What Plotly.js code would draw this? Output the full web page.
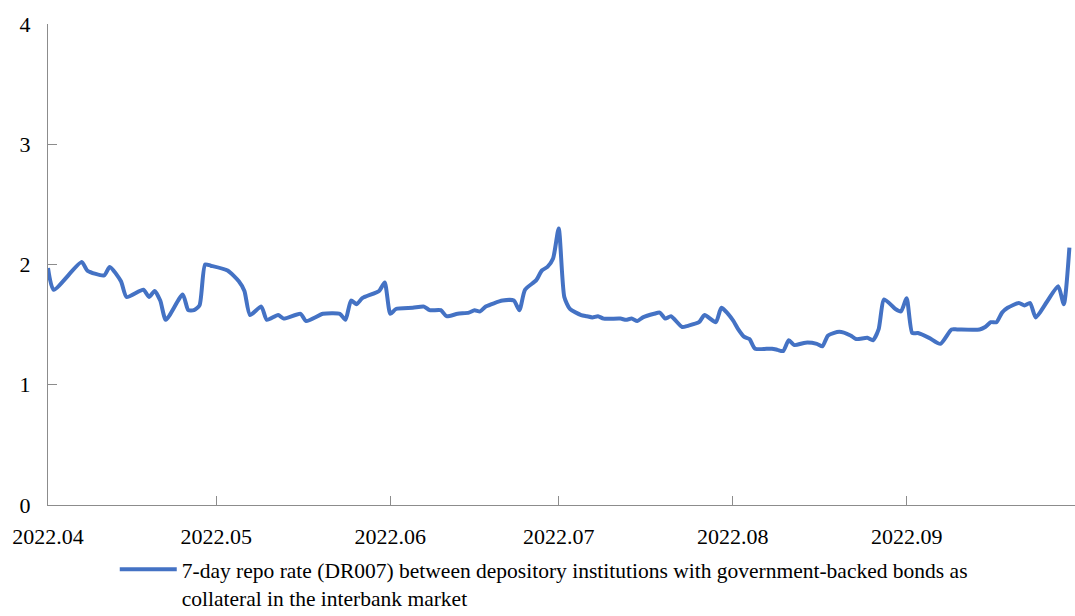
<!DOCTYPE html>
<html>
<head>
<meta charset="utf-8">
<script src="https://cdn.plot.ly/plotly-3.0.1.min.js"></script>
<style>html,body{margin:0;padding:0;background:#fff;}#chart{width:1075px;height:616px;}</style>
</head>
<body>
<div id="chart"></div>
<script>
const dates = [
"2022-04-01","2022-04-02","2022-04-07","2022-04-08","2022-04-11","2022-04-12","2022-04-14","2022-04-15",
"2022-04-18","2022-04-19","2022-04-20","2022-04-21","2022-04-22","2022-04-25","2022-04-26","2022-04-27",
"2022-04-28","2022-04-29","2022-04-30","2022-05-03","2022-05-05","2022-05-06","2022-05-07","2022-05-09",
"2022-05-10","2022-05-12","2022-05-13","2022-05-16","2022-05-17","2022-05-20","2022-05-23","2022-05-24",
"2022-05-25","2022-05-26","2022-05-27","2022-05-30","2022-05-31","2022-06-01","2022-06-02","2022-06-05",
"2022-06-07","2022-06-08","2022-06-10","2022-06-11","2022-06-13","2022-06-15","2022-06-16","2022-06-17",
"2022-06-18","2022-06-21","2022-06-23","2022-06-24","2022-06-25","2022-06-27","2022-06-28","2022-06-29",
"2022-06-30","2022-07-01","2022-07-02","2022-07-03","2022-07-05","2022-07-06","2022-07-07","2022-07-08",
"2022-07-09","2022-07-12","2022-07-13","2022-07-14","2022-07-15","2022-07-16","2022-07-18","2022-07-19",
"2022-07-20","2022-07-21","2022-07-23","2022-07-24","2022-07-26","2022-07-27","2022-07-29","2022-07-30",
"2022-08-01","2022-08-02","2022-08-03","2022-08-04","2022-08-05","2022-08-08","2022-08-09","2022-08-10",
"2022-08-11","2022-08-12","2022-08-14","2022-08-16","2022-08-17","2022-08-18","2022-08-20","2022-08-22",
"2022-08-23","2022-08-25","2022-08-26","2022-08-27","2022-08-28","2022-08-30","2022-08-31","2022-09-01",
"2022-09-02","2022-09-03","2022-09-05","2022-09-07","2022-09-09","2022-09-10","2022-09-14","2022-09-15",
"2022-09-16","2022-09-17","2022-09-18","2022-09-19","2022-09-21","2022-09-22","2022-09-23","2022-09-24",
"2022-09-26","2022-09-28","2022-09-29","2022-09-30"
];
const dr007 = [
1.97,1.79,2.02,1.95,1.91,1.98,1.86,1.73,
1.79,1.73,1.78,1.70,1.54,1.75,1.62,1.62,
1.66,2.00,1.99,1.95,1.86,1.78,1.58,1.65,
1.54,1.58,1.55,1.59,1.53,1.59,1.59,1.54,
1.70,1.67,1.72,1.78,1.85,1.59,1.63,1.64,
1.65,1.62,1.62,1.57,1.59,1.60,1.62,1.61,
1.65,1.70,1.70,1.62,1.79,1.87,1.95,1.98,
2.05,2.30,1.73,1.63,1.58,1.57,1.56,1.57,
1.55,1.55,1.54,1.55,1.53,1.56,1.59,1.60,
1.55,1.57,1.48,1.49,1.52,1.58,1.52,1.64,
1.54,1.46,1.40,1.38,1.30,1.30,1.29,1.28,
1.37,1.33,1.35,1.34,1.32,1.41,1.44,1.41,
1.38,1.39,1.37,1.46,1.71,1.63,1.61,1.72,
1.43,1.43,1.39,1.34,1.46,1.46,1.46,1.48,
1.52,1.52,1.60,1.64,1.68,1.66,1.68,1.56,
1.69,1.82,1.67,2.14
];
const tickDates = ["2022-04-01","2022-05-01","2022-06-01","2022-07-01","2022-08-01","2022-09-01"];
const tickLabels = ["2022.04","2022.05","2022.06","2022.07","2022.08","2022.09"];
const yTicks = [0,1,2,3,4];
const seriesName = "7-day repo rate (DR007) between depository institutions with government-backed bonds as<br>collateral in the interbank market";

const font = "Liberation Serif, Times New Roman, serif";
const trace = {
  x: dates, y: dr007, type: "scatter", mode: "lines", name: seriesName,
  line: {color: "#4472C4", width: 4, shape: "spline", smoothing: 0.6},
  cliponaxis: true
};
const layout = {
  width: 1075, height: 616,
  margin: {l: 48, r: 0, t: 24, b: 111, autoexpand: false},
  paper_bgcolor: "#ffffff", plot_bgcolor: "#ffffff",
  font: {family: font, size: 22, color: "#000"},
  showlegend: true,
  xaxis: {
    type: "date", range: ["2022-04-01", "2022-10-01"],
    tickvals: tickDates, ticktext: tickLabels,
    ticks: "inside", ticklen: 9, tickcolor: "#8c8c8c", tickwidth: 1,
    showline: true, linecolor: "#8c8c8c", linewidth: 1,
    showgrid: false, zeroline: false, automargin: false,
    ticklabelstandoff: 12,
    tickfont: {family: font, size: 22, color: "#000"}
  },
  yaxis: {
    range: [0, 4], tickvals: yTicks,
    ticks: "inside", ticklen: 9, tickcolor: "#8c8c8c", tickwidth: 1,
    showline: true, linecolor: "#8c8c8c", linewidth: 1,
    showgrid: false, zeroline: false, automargin: false,
    ticklabelstandoff: 12,
    tickfont: {family: font, size: 22, color: "#000"}
  },
  legend: {
    orientation: "h", x: 0.065, xanchor: "left", y: -0.091, yanchor: "top",
    valign: "top", font: {family: font, size: 21.5, color: "#000"},
    bgcolor: "rgba(0,0,0,0)", itemwidth: 57
  }
};
Plotly.newPlot("chart", [trace], layout, {displayModeBar: false, staticPlot: true});
</script>
</body>
</html>
